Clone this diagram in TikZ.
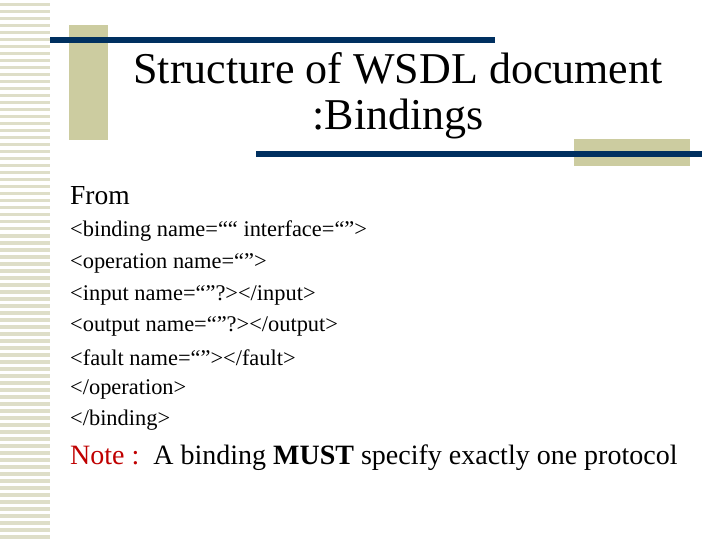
\documentclass[tikz,border=0pt]{standalone}
\usepackage{fontspec}
\setmainfont{Liberation Serif}
\definecolor{khaki}{RGB}{204,204,160}
\definecolor{stripe}{RGB}{222,222,200}
\definecolor{navy}{RGB}{0,48,96}
\definecolor{notered}{RGB}{192,0,0}
\begin{document}
\begin{tikzpicture}[x=1pt,y=-1pt,
  body/.style={anchor=west,inner sep=0pt,font=\fontsize{22.4}{26}\selectfont}]
\useasboundingbox (0,0) rectangle (720,540);
\fill[white] (0,0) rectangle (720,540);
\foreach \y in {3,10,...,535} \fill[stripe] (0,\y) rectangle (50,\y+3.5);
\fill[khaki] (69,25) rectangle (108,140);
\fill[navy] (50,37) rectangle (495,43);
\fill[khaki] (574,139) rectangle (690,166);
\fill[navy] (256,151) rectangle (702,157);
\node[align=center,font=\fontsize{44}{46}\selectfont,inner sep=0pt] (title) at (398,96) {Structure of WSDL document\\:Bindings};
\node[body,font=\fontsize{27.5}{30}\selectfont] (from) at (70,196) {From};
\node[body] (l1) at (70,231) {<binding name=““ interface=“”>};
\node[body] (l2) at (70,263) {<operation name=“”>};
\node[body] (l3) at (70,295) {<input name=“”?></input>};
\node[body] (l4) at (70,326) {<output name=“”?></output>};
\node[body] (l5) at (70,358) {<fault name=“”></fault>};
\node[body] (l6) at (70,389) {</operation>};
\node[body] (l7) at (70,420) {</binding>};
\node[body,font=\fontsize{28}{30}\selectfont] (note) at (70,458) {\textcolor{notered}{Note :}\ \ A binding \textbf{MUST} specify exactly one protocol};
\end{tikzpicture}
\end{document}
